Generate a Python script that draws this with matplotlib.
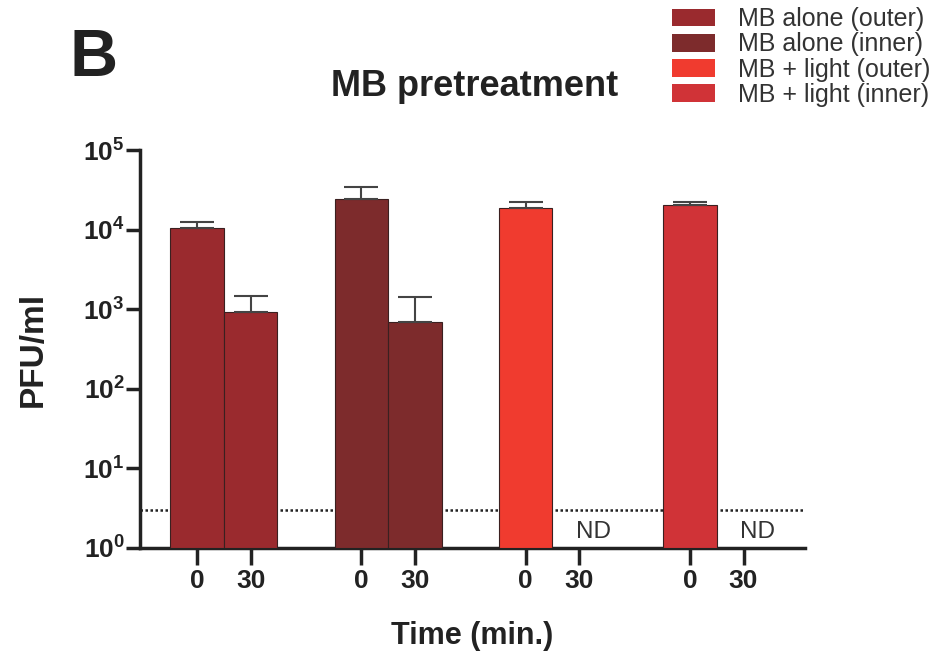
import numpy as np
import matplotlib.pyplot as plt
from matplotlib.patches import Patch

plt.rcParams['font.family'] = ['Liberation Sans', 'DejaVu Sans']
plt.rcParams['mathtext.fontset'] = 'custom'
plt.rcParams['mathtext.rm'] = 'Liberation Sans'
plt.rcParams['mathtext.bf'] = 'Liberation Sans:bold'

# data
groups = ['MB alone (outer)', 'MB alone (inner)', 'MB + light (outer)', 'MB + light (inner)']
times = ['0', '30']
means = [[1.05e4, 920], [2.4e4, 690], [1.87e4, None], [2.04e4, None]]
upper = [[1.26e4, 1480], [3.4e4, 1420], [2.2e4, None], [2.2e4, None]]
colors = ['#9a2a2e', '#7d2b2c', '#f03b2f', '#d03337']
detection_limit = 3.0
ytick_labels = [r'$\mathbf{10^{%d}}$' % i for i in range(6)]

fig = plt.figure(figsize=(9.42, 6.53), dpi=100)
ax = fig.add_axes([0.1486, 0.161, 0.706, 0.609])

gap = 3.07
xs_all = []
for g, name in enumerate(groups):
    for t in range(len(times)):
        x = g * gap + t
        xs_all.append(x)
        m = means[g][t]
        if m is None:
            ax.text(x + 0.27, 1.6, 'ND', ha='center', va='center', fontsize=17.5, color='#333333')
            continue
        ax.bar(x, m, width=1.0, bottom=1, color=colors[g], edgecolor='#3a2020', linewidth=0.8, zorder=3)
        ax.errorbar(x, m, yerr=[[0], [upper[g][t] - m]], fmt='none', ecolor='#444444',
                    elinewidth=1.5, capsize=12, capthick=1.5, zorder=4)

ax.axhline(detection_limit, color='#222222', linestyle=(0, (1.0, 1.0)), linewidth=1.8, zorder=2)

ax.set_yscale('log')
ax.set_ylim(1, 1e5)
ax.set_xlim(-1.07, 11.36)
ax.set_yticks([10 ** i for i in range(6)])
ax.set_yticklabels(ytick_labels)
ax.minorticks_off()
ax.set_xticks(xs_all)
ax.set_xticklabels(times * len(groups))

for s in ['top', 'right']:
    ax.spines[s].set_visible(False)
for s in ['left', 'bottom']:
    ax.spines[s].set_linewidth(2.5)
    ax.spines[s].set_color('#222222')
ax.tick_params(axis='y', width=2.5, length=10, color='#222222', labelsize=19, pad=1)
ax.tick_params(axis='x', width=2.5, length=12, color='#222222', labelsize=19, pad=3)
for lab in ax.get_xticklabels() + ax.get_yticklabels():
    lab.set_fontweight('bold')
    lab.set_color('#222222')

ax.set_ylabel('PFU/ml', fontsize=24, fontweight='bold', color='#222222')
ax.yaxis.set_label_coords(-0.137, 0.5)
ax.set_xlabel('Time (min.)', fontsize=22, fontweight='bold', color='#222222')
ax.xaxis.set_label_coords(0.5, -0.183)
fig.text(0.504, 0.868, 'MB pretreatment', ha='center', va='center', fontsize=26,
         fontweight='bold', color='#222222')
fig.text(0.099, 0.91, 'B', ha='center', va='center', fontsize=48, fontweight='bold', color='#222222')

handles = [Patch(facecolor=c, edgecolor='none') for c in colors]
fig.legend(handles, groups, loc='upper left', bbox_to_anchor=(0.697, 1.012), frameon=False,
           fontsize=18, handlelength=1.75, handleheight=0.72, labelspacing=0.05,
           handletextpad=0.9, labelcolor='#333333', borderaxespad=0.2)

fig.savefig('out.png', dpi=100)
